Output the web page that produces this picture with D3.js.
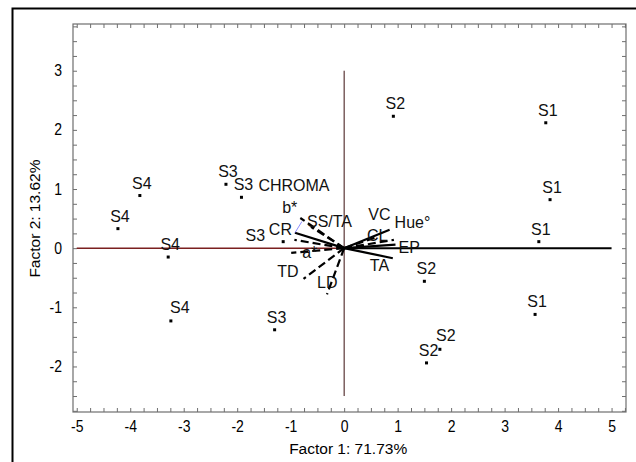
<!DOCTYPE html>
<html lang="en">
<head>
	<meta charset="UTF-8">
	<title>Biplot</title>
	<style type="text/css">
		body { margin: 0; background: #fff; }
		svg { font-family: "Liberation Sans", Arial, sans-serif; }
		.frame line, .frame path { stroke: #6e6e6e; }
	</style>
</head>
<body>
	<script type="text/javascript" src="https://cdn.jsdelivr.net/npm/d3@7/dist/d3.min.js"></script>
	<script type="text/javascript">
		// cases (scores)
		var samples = ['S1','S1','S1','S1','S2','S2','S2','S2','S3','S3','S3','S3','S4','S4','S4','S4'];
		var factor1 = [3.77, 3.85, 3.64, 3.57, 0.92, 1.50, 1.79, 1.54, -2.21, -1.92, -1.14, -1.30, -3.82, -4.23, -3.29, -3.24];
		var factor2 = [2.12, 0.82, 0.11, -1.12, 2.23, -0.56, -1.71, -1.94, 1.08, 0.86, 0.11, -1.38, 0.89, 0.33, -0.15, -1.23];

		// variables (loadings)
		var variables = ['CHROMA','b*','SS/TA','CR','a*','TD','LD','VC','Hue\u00b0','CL','EP','TA'];
		var load1 = [-0.93, -0.82, -0.62, -0.92, -0.99, -0.76, -0.32, 0.62, 0.85, 0.93, 0.96, 0.91];
		var load2 = [0.14, 0.51, 0.36, 0.26, -0.08, -0.52, -0.78, 0.19, 0.31, 0.14, 0.06, -0.17];
		var dashed = [true, true, true, false, true, true, true, true, false, true, false, false];

		// thin blue leader between CR and b*
		var leader = [[-0.92, 0.26], [-0.79, 0.45]];

		var xTicks = d3.range(-20, 22).map(function (i) { return i / 4; });
		var yTicks = d3.range(-11, 16).map(function (i) { return i / 4; });

		var w = 636, h = 462;
		var x = d3.scaleLinear().domain([-5.07, 5.27]).range([73, 626]);
		var y = d3.scaleLinear().domain([-2.77, 3.79]).range([412, 24]);

		// label placement next to each point / vector end: [anchor, dx, dy]
		var pointLabel = { 6: ['middle', 6, -8], 10: ['end', -18, -1], 15: ['middle', 9, -8] };
		var varLabel = {
			'CHROMA': ['start', -36, -49],
			'b*': ['end', -3, -5],
			'SS/TA': ['start', -4, 0],
			'CR': ['end', -3, 2],
			'a*': ['start', 11, 5],
			'TD': ['end', -5, -2],
			'LD': ['start', -10, -6],
			'VC': ['start', -9, -17],
			'Hue\u00b0': ['start', 5, -2],
			'CL': ['start', -27, 1],
			'EP': ['start', 3, 8],
			'TA': ['start', -23, 13]
		};

		// the original text is a little taller than it is wide
		function stretch(sel, s) {
			sel.each(function () {
				var t = d3.select(this);
				var tx = +t.attr('x') || 0, ty = +t.attr('y') || 0;
				t.attr('x', 0).attr('y', 0)
				 .attr('transform', 'translate(' + tx + ',' + ty + ') scale(1,' + s + ')');
			});
		}

		var svg = d3.select('body')
					.append('svg')
					.attr('width', w)
					.attr('height', h);

		// outer border
		svg.append('rect')
			.attr('x', 12.5).attr('y', 8.5)
			.attr('width', 640).attr('height', 470)
			.attr('fill', 'none')
			.attr('stroke', '#000')
			.attr('stroke-width', 2);

		var fmt = function (d) { return d % 1 === 0 && d <= 5 && d >= -5 ? String(d) : ''; };

		var gx = svg.append('g').attr('class', 'frame')
					.attr('transform', 'translate(0,' + y.range()[0] + ')')
					.call(d3.axisBottom(x).tickValues(xTicks).tickFormat(fmt).tickSizeInner(-4).tickSizeOuter(0).tickPadding(9));
		var gx2 = svg.append('g').attr('class', 'frame')
					.attr('transform', 'translate(0,' + y.range()[1] + ')')
					.call(d3.axisTop(x).tickValues(xTicks).tickFormat('').tickSizeInner(-4).tickSizeOuter(0));
		var gy = svg.append('g').attr('class', 'frame')
					.attr('transform', 'translate(' + x.range()[0] + ',0)')
					.call(d3.axisLeft(y).tickValues(yTicks).tickFormat(fmt).tickSizeInner(-4).tickSizeOuter(0).tickPadding(11));
		var gy2 = svg.append('g').attr('class', 'frame')
					.attr('transform', 'translate(' + x.range()[1] + ',0)')
					.call(d3.axisRight(y).tickValues(yTicks).tickFormat('').tickSizeInner(-4).tickSizeOuter(0));

		svg.selectAll('.frame .domain').remove();
		svg.selectAll('.frame text')
			.attr('font-size', '14px')
			.attr('font-family', '"Liberation Sans", Arial, sans-serif')
			.attr('fill', '#000');
		stretch(svg.selectAll('.frame text'), 1.12);

		svg.append('rect')
			.attr('x', x.range()[0]).attr('y', y.range()[1])
			.attr('width', x.range()[1] - x.range()[0])
			.attr('height', y.range()[0] - y.range()[1])
			.attr('fill', 'none')
			.attr('stroke', '#6e6e6e')
			.attr('stroke-width', 1.2);

		// axis titles
		svg.append('text')
			.attr('x', x(0) + 4).attr('y', 454)
			.attr('text-anchor', 'middle')
			.attr('font-size', '15.5px')
			.text('Factor 1: 71.73%');
		svg.append('text')
			.attr('transform', 'translate(39.5,' + (y(0.5)) + ') rotate(-90)')
			.attr('text-anchor', 'middle')
			.attr('font-size', '15.5px')
			.text('Factor 2: 13.62%');

		// reference lines through origin
		svg.append('line')
			.attr('x1', x(-5)).attr('x2', x(0))
			.attr('y1', y(0)).attr('y2', y(0))
			.attr('stroke', '#7a1f1f').attr('stroke-width', 1.5);
		svg.append('line')
			.attr('x1', x(0)).attr('x2', x(5))
			.attr('y1', y(0)).attr('y2', y(0))
			.attr('stroke', '#000').attr('stroke-width', 2);
		svg.append('line')
			.attr('x1', x(0)).attr('x2', x(0))
			.attr('y1', y(3)).attr('y2', y(-2.5))
			.attr('stroke', '#3a0f0f').attr('stroke-width', 1);

		// variable vectors
		var vecs = d3.zip(variables, load1, load2, dashed);
		svg.selectAll('line.vec')
			.data(vecs)
			.enter()
			.append('line')
			.attr('class', 'vec')
			.attr('x1', x(0)).attr('y1', y(0))
			.attr('x2', function (d) { return x(d[1]); })
			.attr('y2', function (d) { return y(d[2]); })
			.attr('stroke', '#000')
			.attr('stroke-width', 2.2)
			.attr('stroke-dasharray', function (d) { return d[3] ? '8,4' : null; });

		svg.append('line')
			.attr('x1', x(leader[0][0])).attr('y1', y(leader[0][1]))
			.attr('x2', x(leader[1][0])).attr('y2', y(leader[1][1]))
			.attr('stroke', '#6f6fff').attr('stroke-width', 0.8);

		svg.selectAll('text.vlab')
			.data(vecs)
			.enter()
			.append('text')
			.attr('class', 'vlab')
			.attr('x', function (d) { return x(d[1]) + varLabel[d[0]][1]; })
			.attr('y', function (d) { return y(d[2]) + varLabel[d[0]][2]; })
			.attr('text-anchor', function (d) { return varLabel[d[0]][0]; })
			.attr('font-size', '16px')
			.attr('fill', '#111')
			.text(function (d) { return d[0]; });
		stretch(svg.selectAll('text.vlab'), 1.08);

		// case points
		var pts = d3.zip(samples, factor1, factor2);
		svg.selectAll('rect.pt')
			.data(pts)
			.enter()
			.append('rect')
			.attr('class', 'pt')
			.attr('x', function (d) { return x(d[1]) - 1.5; })
			.attr('y', function (d) { return y(d[2]) - 1.5; })
			.attr('width', 3).attr('height', 3)
			.attr('fill', '#000');

		svg.selectAll('text.plab')
			.data(pts)
			.enter()
			.append('text')
			.attr('class', 'plab')
			.attr('x', function (d, i) { return x(d[1]) + (pointLabel[i] ? pointLabel[i][1] : 2); })
			.attr('y', function (d, i) { return y(d[2]) + (pointLabel[i] ? pointLabel[i][2] : -7); })
			.attr('text-anchor', function (d, i) { return pointLabel[i] ? pointLabel[i][0] : 'middle'; })
			.attr('font-size', '16px')
			.attr('fill', '#111')
			.text(function (d) { return d[0]; });
		stretch(svg.selectAll('text.plab'), 1.08);
	</script>
</body>
</html>
